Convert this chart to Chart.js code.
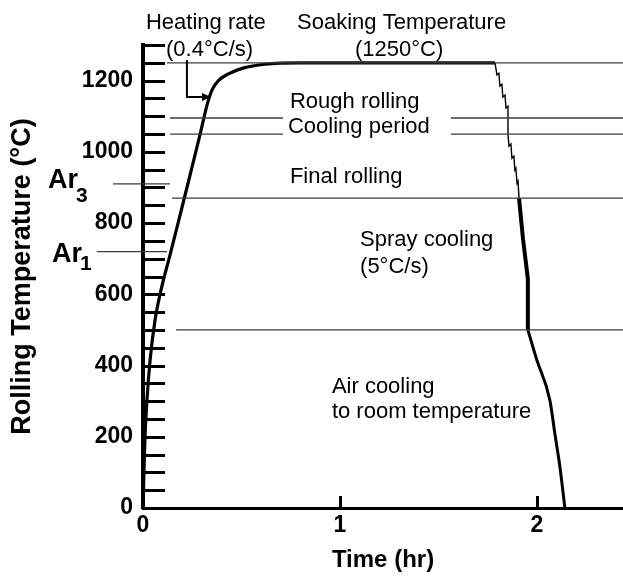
<!DOCTYPE html>
<html><head><meta charset="utf-8">
<script src="https://cdn.jsdelivr.net/npm/chart.js@4.4.1/dist/chart.umd.min.js"></script>
<style>html,body{margin:0;padding:0;background:#fff;}canvas{display:block;}</style>
</head><body>
<canvas id="c" width="623" height="578"></canvas>
<script>
const FONT = '"Liberation Sans", Arial, Helvetica, sans-serif';

// Heating to soaking temperature (time in hr, temperature in °C)
const heatTime = [0, 0.005, 0.010, 0.020, 0.036, 0.061, 0.091, 0.137, 0.188, 0.239, 0.289, 0.325, 0.350, 0.381, 0.431, 0.508, 0.619, 0.797, 1.787];
const heatTemp = [0, 105, 198, 302, 415, 527, 611, 710, 822, 935, 1047, 1131, 1173, 1199, 1218, 1235, 1246, 1250, 1250];
// Rough rolling passes, cooling period, final rolling passes
const rollTime = [1.787, 1.797, 1.807, 1.812, 1.822, 1.827, 1.838, 1.843, 1.853, 1.853, 1.853, 1.858, 1.868, 1.873, 1.883, 1.888, 1.893, 1.899, 1.904, 1.909];
const rollTemp = [1250, 1216, 1221, 1185, 1190, 1154, 1159, 1123, 1128, 1095, 1050, 1016, 1022, 982, 988, 949, 954, 912, 918, 870];
// Spray cooling
const sprayTime = [1.909, 1.929, 1.954, 1.954];
const sprayTemp = [870, 757, 643, 500];
// Air cooling
const airTime = [1.954, 2.000, 2.066, 2.091, 2.117, 2.142];
const airTemp = [500, 415, 302, 209, 114, 0];
// Horizontal reference levels
const refLevels = [1250, 1095, 1095, 1050, 1050, 870, 500, 910, 720];
const refStart  = [0.122, 0.137, 1.563, 0.137, 1.563, 0.147, 0.168, -0.152, -0.234];
const refEnd    = [2.437, 0.711, 2.437, 0.711, 2.437, 2.437, 2.437, 0.137, 0.122];
// Tick labels
const xTickLabels = [0, 1, 2];
const yTickLabels = [0, 200, 400, 600, 800, 1000, 1200];

// Annotation texts (anchored in data coordinates)
const notes = [
  {text: 'Heating rate', t: 0.015, T: 1345},
  {text: '(0.4°C/s)', t: 0.117, T: 1269},
  {text: 'Soaking Temperature', t: 0.782, T: 1345},
  {text: '(1250°C)', t: 1.076, T: 1269},
  {text: 'Rough rolling', t: 0.746, T: 1123},
  {text: 'Cooling period', t: 0.736, T: 1052},
  {text: 'Final rolling', t: 0.746, T: 912},
  {text: 'Spray cooling', t: 1.102, T: 735},
  {text: '(5°C/s)', t: 1.102, T: 659},
  {text: 'Air cooling', t: 0.959, T: 322},
  {text: 'to room temperature', t: 0.959, T: 252}
];
const arLabels = [
  {main: 'Ar', sub: '3', t: -0.482, T: 898, subDrop: 14},
  {main: 'Ar', sub: '1', t: -0.462, T: 690, subDrop: 8}
];
const arrow = {t0: 0.223, T0: 1258, T1: 1154, t1: 0.345};

function zip(xs, ys) { return xs.map((v, i) => ({x: v, y: ys[i]})); }

const datasets = [];
refLevels.forEach((lv, i) => {
  datasets.push({data: [{x: refStart[i], y: lv}, {x: refEnd[i], y: lv}], borderColor: '#3c3c3c', borderWidth: 1.3, clip: false, showLine: true, pointRadius: 0});
});
datasets.push({data: zip(heatTime, heatTemp), borderColor: '#000', borderWidth: 3.2, cubicInterpolationMode: 'monotone', showLine: true, pointRadius: 0});
datasets.push({data: zip(rollTime, rollTemp), borderColor: '#000', borderWidth: 1.4, showLine: true, pointRadius: 0});
datasets.push({data: zip(sprayTime, sprayTemp), borderColor: '#000', borderWidth: 4, showLine: true, pointRadius: 0});
datasets.push({data: zip(airTime, airTemp), borderColor: '#000', borderWidth: 3, showLine: true, pointRadius: 0, cubicInterpolationMode: 'monotone'});

const marks = {
  id: 'marks',
  afterDatasetsDraw(chart) {
    const {ctx, chartArea: a, scales: {x, y}} = chart;
    ctx.save();
    ctx.strokeStyle = '#000';
    ctx.lineWidth = 3;
    y.ticks.forEach(tk => {
      const py = Math.round(y.getPixelForValue(tk.value)) + 0.5;
      ctx.beginPath(); ctx.moveTo(a.left, py); ctx.lineTo(a.left + 22, py); ctx.stroke();
    });
    x.ticks.forEach(tk => {
      if (tk.value === 0) return;
      const px = Math.round(x.getPixelForValue(tk.value)) + 0.5;
      ctx.beginPath(); ctx.moveTo(px, a.bottom); ctx.lineTo(px, a.bottom - 12); ctx.stroke();
    });
    // arrow
    const ax = x.getPixelForValue(arrow.t0), ay0 = y.getPixelForValue(arrow.T0), ay1 = y.getPixelForValue(arrow.T1), tip = x.getPixelForValue(arrow.t1);
    ctx.lineWidth = 2;
    ctx.beginPath(); ctx.moveTo(ax, ay0); ctx.lineTo(ax, ay1); ctx.lineTo(tip - 7, ay1); ctx.stroke();
    ctx.fillStyle = '#000';
    ctx.beginPath(); ctx.moveTo(tip, ay1); ctx.lineTo(tip - 9, ay1 - 4); ctx.lineTo(tip - 9, ay1 + 4); ctx.closePath(); ctx.fill();
    // notes
    ctx.font = '22px ' + FONT;
    ctx.textAlign = 'left'; ctx.textBaseline = 'alphabetic';
    notes.forEach(n => ctx.fillText(n.text, x.getPixelForValue(n.t), y.getPixelForValue(n.T)));
    // Ar labels
    arLabels.forEach(l => {
      const px = x.getPixelForValue(l.t), py = y.getPixelForValue(l.T);
      ctx.font = 'bold 27px ' + FONT;
      ctx.fillText(l.main, px, py);
      const w = ctx.measureText(l.main).width;
      ctx.font = 'bold 21px ' + FONT;
      ctx.fillText(l.sub, px + w - 2, py + l.subDrop);
    });
    ctx.restore();
  }
};

new Chart(document.getElementById('c'), {
  type: 'scatter',
  data: {datasets},
  options: {
    responsive: false,
    animation: false,
    events: [],
    layout: {padding: {top: 45, right: 0, bottom: 0, left: 0}},
    plugins: {legend: {display: false}, tooltip: {enabled: false}},
    scales: {
      x: {
        type: 'linear', min: 0, max: 2.437,
        grid: {display: false, drawTicks: false},
        border: {display: true, color: '#000', width: 3},
        ticks: {stepSize: 1, includeBounds: false, autoSkip: false, padding: 4, color: '#000', maxRotation: 0,
          font: {family: FONT, size: 23, weight: 'bold'},
          callback: v => xTickLabels.includes(v) ? String(v) : ''},
        title: {display: true, text: 'Time (hr)', color: '#000', font: {family: FONT, size: 24, weight: 'bold'}, padding: {top: 0, bottom: 3}},
        afterFit: s => { s.height = 70; }
      },
      y: {
        type: 'linear', min: 0, max: 1300,
        grid: {display: false, drawTicks: false},
        border: {display: true, color: '#000', width: 4},
        ticks: {stepSize: 50, autoSkip: false, padding: 10, color: '#000',
          font: {family: FONT, size: 23, weight: 'bold'},
          callback: v => yTickLabels.includes(v) ? String(v) : ''},
        title: {display: true, text: 'Rolling Temperature (°C)', color: '#000', font: {family: FONT, size: 27, weight: 'bold'}, padding: {top: 6, bottom: 0}},
        afterFit: s => { s.width = 143; }
      }
    }
  },
  plugins: [marks]
});
</script>
</body></html>
